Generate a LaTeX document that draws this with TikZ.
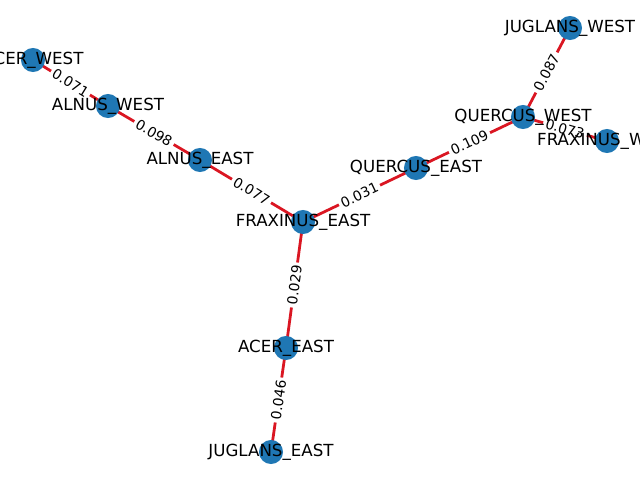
\documentclass[tikz,border=0pt]{standalone}
\usepackage{fontspec}
\setmainfont{DejaVu Sans}
\usetikzlibrary{calc}

\definecolor{nodeblue}{RGB}{31,119,180}
\definecolor{edgered}{RGB}{218,22,34}

\begin{document}
\begin{tikzpicture}[x=0.72pt, y=-0.72pt,
vertex_style/.style={circle, fill=nodeblue, draw=none, minimum size=17.3pt, inner sep=0pt},
name_style/.style={font=\fontsize{12pt}{14pt}\selectfont, inner sep=0pt, text=black},
edge_style/.style={line width=2pt, edgered},
weight_style/.style={sloped, fill=white, rounded corners=2pt, inner sep=2pt, font=\fontsize{10pt}{12pt}\selectfont, text=black},
]

	\useasboundingbox (0,0) rectangle (640,480);
	\clip (0,0) rectangle (640,480);

	% node positions
	\coordinate (acer_west) at (33,60);
	\coordinate (alnus_west) at (108,106);
	\coordinate (alnus_east) at (200,160);
	\coordinate (fraxinus_east) at (303,222);
	\coordinate (quercus_east) at (416,168);
	\coordinate (quercus_west) at (523,117);
	\coordinate (juglans_west) at (570,28);
	\coordinate (fraxinus_west) at (607,141);
	\coordinate (acer_east) at (286,348);
	\coordinate (juglans_east) at (271,452);

	% edges with weights
\foreach \a/\b/\w in {acer_west/alnus_west/0.071, alnus_west/alnus_east/0.098, alnus_east/fraxinus_east/0.077, fraxinus_east/quercus_east/0.031, quercus_east/quercus_west/0.109, quercus_west/juglans_west/0.087, quercus_west/fraxinus_west/0.073, fraxinus_east/acer_east/0.029, acer_east/juglans_east/0.046}{
		\draw[edge_style] (\a) -- node[weight_style] (w_\a_\b) {\w} (\b);
		}

	% vertices and their names
\foreach \v/\t in {acer_west/ACER\_WEST, alnus_west/ALNUS\_WEST, alnus_east/ALNUS\_EAST, fraxinus_east/FRAXINUS\_EAST, quercus_east/QUERCUS\_EAST, quercus_west/QUERCUS\_WEST, juglans_west/JUGLANS\_WEST, fraxinus_west/FRAXINUS\_WEST, acer_east/ACER\_EAST, juglans_east/JUGLANS\_EAST}{
		\node[vertex_style] (v_\v) at (\v) {};
		\node[name_style] (n_\v) at (\v) {\t};
		}

\end{tikzpicture}
\end{document}
